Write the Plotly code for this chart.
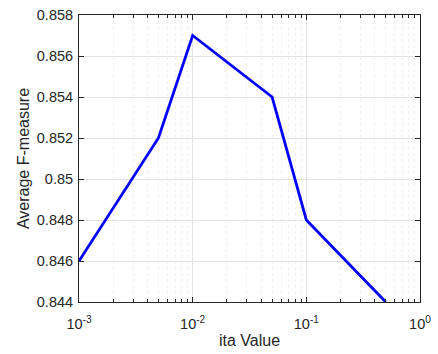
import plotly.graph_objects as go

# ita values swept and the resulting average F-measure
ita_values = [0.001, 0.005, 0.01, 0.05, 0.1, 0.5]
avg_f_measure = [0.846, 0.852, 0.857, 0.854, 0.848, 0.844]

x_tick_vals = [0.001, 0.01, 0.1, 1]
x_tick_text = ["10<sup>-3</sup>", "10<sup>-2</sup>", "10<sup>-1</sup>", "10<sup>0</sup>"]
y_tick_vals = [0.844, 0.846, 0.848, 0.85, 0.852, 0.854, 0.856, 0.858]
y_tick_text = ["0.844", "0.846", "0.848", "0.85", "0.852", "0.854", "0.856", "0.858"]

minor_vals = [m * 10 ** e for e in (-3, -2, -1) for m in range(2, 10)]

fig = go.Figure()
fig.add_trace(go.Scatter(
    x=ita_values, y=avg_f_measure, mode="lines",
    line=dict(color="#0000ff", width=2.8),
    showlegend=False,
))

tick_font = dict(family="Liberation Sans, Arial, sans-serif", size=14.5, color="#262626")
title_font = dict(family="Liberation Sans, Arial, sans-serif", size=16, color="#262626")

fig.update_layout(
    width=438, height=354,
    margin=dict(l=79, r=15, t=7, b=51),
    paper_bgcolor="white", plot_bgcolor="white",
    font=tick_font,
    xaxis=dict(
        type="log", range=[-3, 0],
        tickvals=x_tick_vals, ticktext=x_tick_text,
        ticks="inside", ticklen=5, tickcolor="#262626",
        ticklabelstandoff=9,
        showline=True, linecolor="#262626", linewidth=1, mirror="ticks",
        showgrid=True, gridcolor="#e3e3e3", gridwidth=1,
        zeroline=False,
        minor=dict(tickvals=minor_vals, ticks="inside", ticklen=3,
                   tickcolor="#262626", showgrid=True,
                   gridcolor="#efefef", griddash="dot", gridwidth=1),
        title=dict(text="ita Value", standoff=3, font=title_font),
        tickfont=tick_font,
    ),
    yaxis=dict(
        range=[0.844, 0.858],
        tickvals=y_tick_vals, ticktext=y_tick_text,
        ticks="inside", ticklen=5, tickcolor="#262626",
        ticklabelstandoff=2,
        showline=True, linecolor="#262626", linewidth=1, mirror="ticks",
        showgrid=True, gridcolor="#e3e3e3", gridwidth=1,
        zeroline=False,
        title=dict(text="Average F-measure", standoff=3, font=title_font),
        tickfont=tick_font,
    ),
)

fig.write_html("out.html")
